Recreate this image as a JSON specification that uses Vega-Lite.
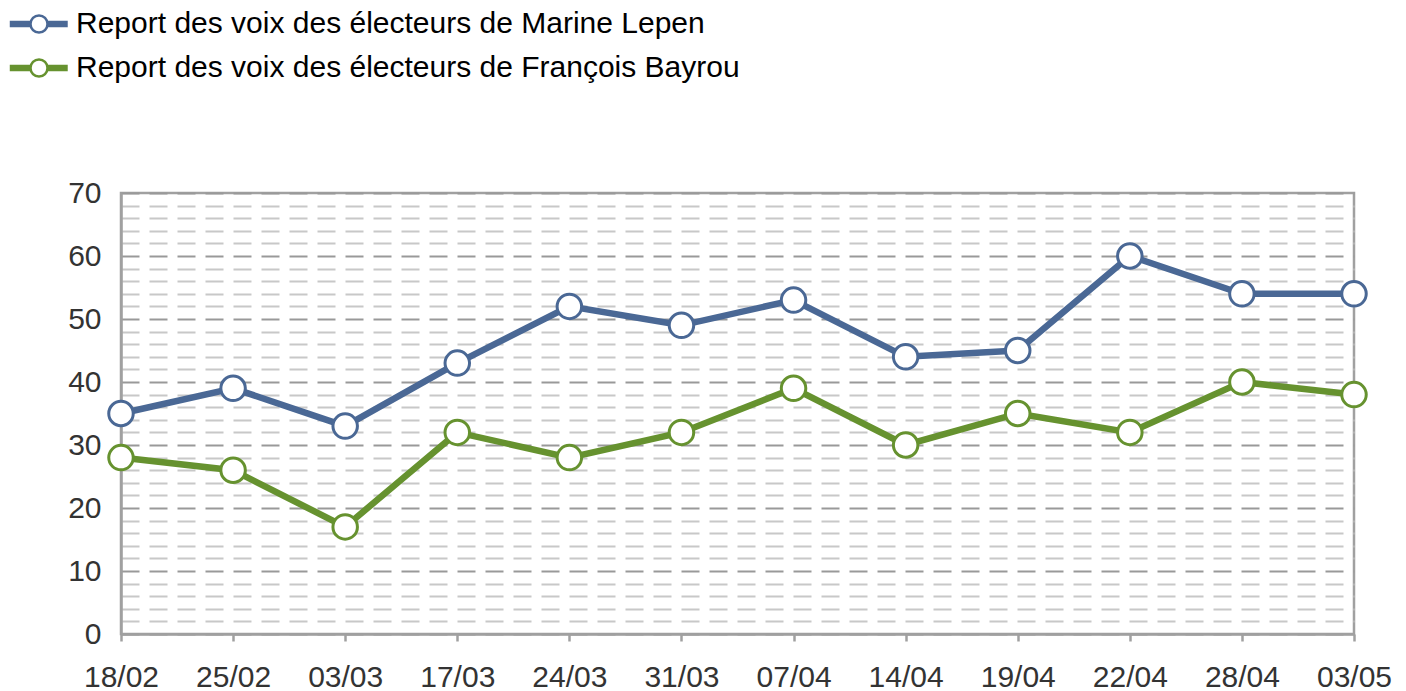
{
  "$schema": "https://vega.github.io/schema/vega-lite/v6.json",
  "autosize": {"type": "none"},
  "padding": {"left": 121, "top": 193, "right": 52, "bottom": 57},
  "width": 1233,
  "height": 441,
  "background": "white",
  "config": {
    "font": "Liberation Sans",
    "view": {"stroke": "#a0a0a0", "strokeWidth": 2.5}
  },
  "data": {
    "values": [
      {"date": "18/02", "series": "Report des voix des électeurs de Marine Lepen", "value": 35},
      {"date": "25/02", "series": "Report des voix des électeurs de Marine Lepen", "value": 39},
      {"date": "03/03", "series": "Report des voix des électeurs de Marine Lepen", "value": 33},
      {"date": "17/03", "series": "Report des voix des électeurs de Marine Lepen", "value": 43},
      {"date": "24/03", "series": "Report des voix des électeurs de Marine Lepen", "value": 52},
      {"date": "31/03", "series": "Report des voix des électeurs de Marine Lepen", "value": 49},
      {"date": "07/04", "series": "Report des voix des électeurs de Marine Lepen", "value": 53},
      {"date": "14/04", "series": "Report des voix des électeurs de Marine Lepen", "value": 44},
      {"date": "19/04", "series": "Report des voix des électeurs de Marine Lepen", "value": 45},
      {"date": "22/04", "series": "Report des voix des électeurs de Marine Lepen", "value": 60},
      {"date": "28/04", "series": "Report des voix des électeurs de Marine Lepen", "value": 54},
      {"date": "03/05", "series": "Report des voix des électeurs de Marine Lepen", "value": 54},
      {"date": "18/02", "series": "Report des voix des électeurs de François Bayrou", "value": 28},
      {"date": "25/02", "series": "Report des voix des électeurs de François Bayrou", "value": 26},
      {"date": "03/03", "series": "Report des voix des électeurs de François Bayrou", "value": 17},
      {"date": "17/03", "series": "Report des voix des électeurs de François Bayrou", "value": 32},
      {"date": "24/03", "series": "Report des voix des électeurs de François Bayrou", "value": 28},
      {"date": "31/03", "series": "Report des voix des électeurs de François Bayrou", "value": 32},
      {"date": "07/04", "series": "Report des voix des électeurs de François Bayrou", "value": 39},
      {"date": "14/04", "series": "Report des voix des électeurs de François Bayrou", "value": 30},
      {"date": "19/04", "series": "Report des voix des électeurs de François Bayrou", "value": 35},
      {"date": "22/04", "series": "Report des voix des électeurs de François Bayrou", "value": 32},
      {"date": "28/04", "series": "Report des voix des électeurs de François Bayrou", "value": 40},
      {"date": "03/05", "series": "Report des voix des électeurs de François Bayrou", "value": 38}
    ]
  },
  "encoding": {
    "x": {
      "field": "date",
      "type": "nominal",
      "sort": null,
      "scale": {"type": "point", "padding": 0},
      "axis": {
        "title": null,
        "labelAngle": 0,
        "labelFontSize": 30,
        "labelColor": "#333333",
        "labelPadding": 21,
        "domainColor": "#a0a0a0",
        "domainWidth": 2.5,
        "tickColor": "#a0a0a0",
        "tickWidth": 2.5,
        "tickSize": 7,
        "grid": false
      }
    },
    "y": {
      "field": "value",
      "type": "quantitative",
      "scale": {"domain": [0, 70], "nice": false},
      "axis": {
        "title": null,
        "values": [0, 2, 4, 6, 8, 10, 12, 14, 16, 18, 20, 22, 24, 26, 28, 30, 32, 34, 36, 38, 40, 42, 44, 46, 48, 50, 52, 54, 56, 58, 60, 62, 64, 66, 68, 70],
        "labelExpr": "datum.value % 10 === 0 ? datum.label : ''",
        "labelFontSize": 30,
        "labelColor": "#333333",
        "labelPadding": 20,
        "ticks": false,
        "domainColor": "#a0a0a0",
        "domainWidth": 2.5,
        "grid": true,
        "gridDash": [18, 10],
        "gridWidth": 2,
        "gridColor": {"condition": {"test": "datum.value % 10 === 0", "value": "#999999"}, "value": "#c8c8c8"}
      }
    }
  },
  "layer": [
    {
      "mark": {"type": "line", "strokeWidth": 6.5},
      "encoding": {
        "color": {
          "field": "series",
          "type": "nominal",
          "scale": {
            "domain": ["Report des voix des électeurs de Marine Lepen", "Report des voix des électeurs de François Bayrou"],
            "range": ["#4a6895", "#66922f"]
          },
          "legend": {
            "orient": "none",
            "legendX": -97.25,
            "legendY": -184,
            "title": null,
            "symbolType": "M-4,0H4",
            "symbolSize": 210,
            "symbolStrokeWidth": 6.5,
            "symbolFillColor": "transparent",
            "labelFontSize": 30,
            "labelExpr": "''",
            "labelLimit": 1000,
            "rowPadding": 14,
            "padding": 0
          }
        }
      }
    },
    {
      "mark": {"type": "point", "filled": true, "fill": "white", "size": 600, "strokeWidth": 3, "opacity": 1},
      "encoding": {
        "stroke": {
          "field": "series",
          "type": "nominal",
          "sort": "descending",
          "scale": {"range": ["#4a6895", "#66922f"]},
          "legend": {
            "orient": "none",
            "legendX": -97,
            "legendY": -184,
            "title": null,
            "symbolType": "circle",
            "symbolSize": 289,
            "symbolStrokeWidth": 2.5,
            "symbolFillColor": "white",
            "symbolOpacity": 1,
            "labelFontSize": 30,
            "labelColor": "#000000",
            "labelOffset": 22,
            "labelLimit": 1000,
            "rowPadding": 14,
            "padding": 0
          }
        }
      }
    }
  ]
}
